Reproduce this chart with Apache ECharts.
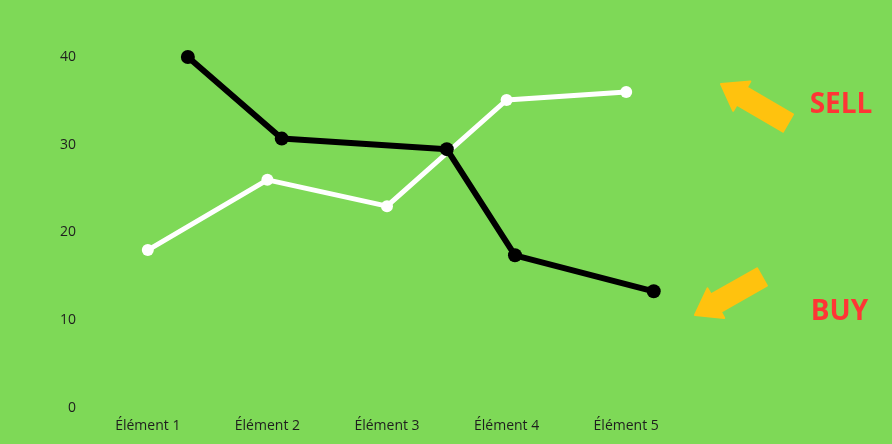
<!DOCTYPE html>
<html><head><meta charset="utf-8">
<script src="https://cdn.jsdelivr.net/npm/echarts@6/dist/echarts.min.js"></script>
<style>html,body{margin:0;padding:0;background:#7ED957}#c{width:892px;height:444px}</style>
</head><body><div id="c"></div>
<script>
const categories = ['Élément 1','Élément 2','Élément 3','Élément 4','Élément 5'];
const whiteValues = [18, 26, 23, 35.1, 36];
const blackX = [0.335, 1.12, 2.5, 3.07, 4.23];
const blackValues = [40, 30.7, 29.5, 17.4, 13.3];
const yTicks = [0, 10, 20, 30, 40];

function arrow(tip, tail, shaftW, headW, headL) {
  const dx = tip[0]-tail[0], dy = tip[1]-tail[1];
  const L = Math.hypot(dx, dy), ux = dx/L, uy = dy/L, px = -uy, py = ux;
  const bx = tip[0]-ux*headL, by = tip[1]-uy*headL;
  return [
    [tail[0]+px*shaftW/2, tail[1]+py*shaftW/2],
    [bx+px*shaftW/2, by+py*shaftW/2],
    [bx+px*headW/2, by+py*headW/2],
    tip,
    [bx-px*headW/2, by-py*headW/2],
    [bx-px*shaftW/2, by-py*shaftW/2],
    [tail[0]-px*shaftW/2, tail[1]-py*shaftW/2]
  ];
}

const chart = echarts.init(document.getElementById('c'));
chart.setOption({
  backgroundColor: '#7ED957',
  animation: false,
  textStyle: { fontFamily: 'Open Sans' },
  grid: { left: 88, right: 206, top: 57, bottom: 36 },
  xAxis: [
    { type: 'category', data: categories, boundaryGap: true,
      axisLine: {show:false}, axisTick: {show:false}, splitLine: {show:false},
      axisLabel: { color: '#1e1e1e', fontSize: 14, margin: 11, fontFamily: 'Open Sans' } },
    { type: 'value', min: -0.5, max: 4.5, show: false }
  ],
  yAxis: { type: 'value', min: 0, max: 40, interval: 10,
    axisLine: {show:false}, axisTick: {show:false}, splitLine: {show:false},
    axisLabel: { color: '#1e1e1e', fontSize: 14, margin: 12, fontFamily: 'Open Sans' } },
  series: [
    { type: 'line', xAxisIndex: 0, data: whiteValues, symbol: 'circle', symbolSize: 12,
      lineStyle: { color: '#ffffff', width: 5 }, itemStyle: { color: '#ffffff' }, z: 2 },
    { type: 'line', xAxisIndex: 1, data: blackX.map((x,i)=>[x, blackValues[i]]), symbol: 'circle', symbolSize: 14,
      lineStyle: { color: '#000000', width: 6 }, itemStyle: { color: '#000000' }, z: 3 }
  ],
  graphic: [
    { type: 'polygon', shape: { points: arrow([721,84],[788,123],20,34,24) }, style: { fill: '#FFC20E', lineJoin: 'round', stroke: '#FFC20E', lineWidth: 2 } },
    { type: 'polygon', shape: { points: arrow([695,315],[762,277],20,34,24) }, style: { fill: '#FFC20E', lineJoin: 'round', stroke: '#FFC20E', lineWidth: 2 } },
    { type: 'text', x: 841, y: 105, style: { text: 'SELL', fill: '#FF3535', font: 'bold 28px "Open Sans"', align: 'center', verticalAlign: 'middle' } },
    { type: 'text', x: 839.5, y: 312, style: { text: 'BUY', fill: '#FF3535', font: 'bold 28px "Open Sans"', align: 'center', verticalAlign: 'middle' } }
  ]
});
</script></body></html>
